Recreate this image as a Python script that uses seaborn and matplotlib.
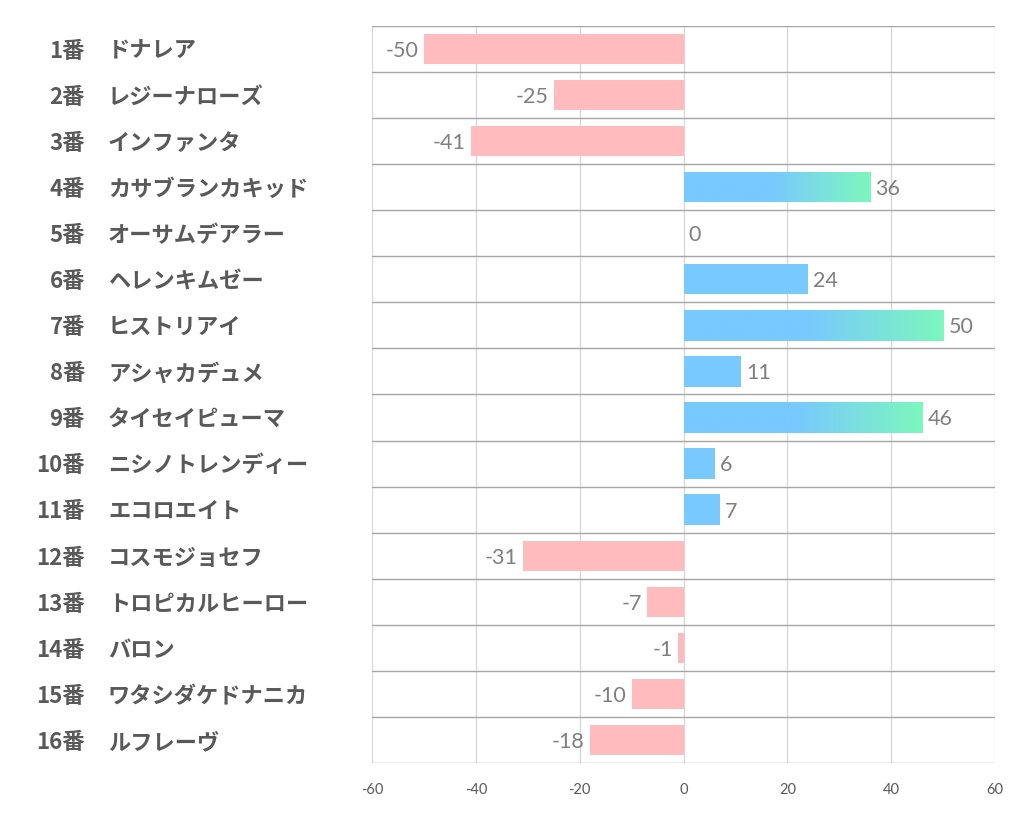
import numpy as np
import pandas as pd
import matplotlib
matplotlib.use('Agg')
import matplotlib.pyplot as plt
import seaborn as sns

# data
numbers = ['1番', '2番', '3番', '4番', '5番', '6番', '7番', '8番',
           '9番', '10番', '11番', '12番', '13番', '14番', '15番', '16番']
names = ['ドナレア', 'レジーナローズ', 'インファンタ', 'カサブランカキッド',
         'オーサムデアラー', 'ヘレンキムゼー', 'ヒストリアイ', 'アシャカデュメ',
         'タイセイピューマ', 'ニシノトレンディー', 'エコロエイト', 'コスモジョセフ',
         'トロピカルヒーロー', 'バロン', 'ワタシダケドナニカ', 'ルフレーヴ']
scores = [-50, -25, -41, 36, 0, 24, 50, 11, 46, 6, 7, -31, -7, -1, -10, -18]
x_ticks = [-60, -40, -20, 0, 20, 40, 60]

POS = '#78C9FE'
GREEN = '#7DF7BE'
NEG = '#FFBBBD'

sns.set_style('white')
plt.rcParams['font.family'] = ['Lato', 'Noto Sans CJK JP', 'DejaVu Sans']

data = pd.DataFrame({'horse': [f'{n} {m}' for n, m in zip(numbers, names)],
                     'score': scores})
colors = [POS if s >= 0 else NEG for s in scores]

fig = plt.figure(figsize=(10.22, 8.34), dpi=100)
ax = fig.add_axes([0.364, 0.085, 0.6096, 0.884])

sns.barplot(data=data, x='score', y='horse', hue='horse', palette=colors,
            orient='h', width=0.66, legend=False, saturation=1, linewidth=0, ax=ax)

# gradient on the long positive bars (right half fades to green), clipped to the bar
cmap = matplotlib.colors.LinearSegmentedColormap.from_list(
    'bg', [(0, POS), (0.47, POS), (1, GREEN)])
grad = np.linspace(0, 1, 512).reshape(1, -1)
for patch, s in zip(ax.patches, scores):
    if s > 30:
        x0, y0 = patch.get_x(), patch.get_y()
        w, h = patch.get_width(), patch.get_height()
        im = ax.imshow(grad, cmap=cmap, aspect='auto', zorder=patch.get_zorder() + 0.1,
                       extent=(x0, x0 + w, y0 + h + 0.1, y0 - 0.1),
                       interpolation='bilinear')
        im.set_clip_path(patch)

ax.set_xlim(-60, 60)
ax.set_ylim(len(scores) - 0.5, -0.5)

# value labels
for i, s in enumerate(scores):
    if s < 0:
        ax.text(s - 1.0, i + 0.04, str(s), ha='right', va='center', fontsize=15.5,
                color='#7F7F7F', family=['Lato', 'DejaVu Sans'])
    else:
        ax.text(s + 1.0, i + 0.04, str(s), ha='left', va='center', fontsize=15.5,
                color='#7F7F7F', family=['Lato', 'DejaVu Sans'])

# row labels: number right aligned, name left aligned
trans = ax.get_yaxis_transform()
for i, (n, m) in enumerate(zip(numbers, names)):
    ax.text(-0.4607, i + 0.05, n, transform=trans, ha='right', va='center', fontsize=16,
            fontweight='bold', color='#595959', family=['Noto Sans CJK JP'])
    ax.text(-0.4238, i + 0.05, m, transform=trans, ha='left', va='center', fontsize=16,
            fontweight='bold', color='#595959', family=['Noto Sans CJK JP'])

# grid: light vertical lines, darker row separators
for x in x_ticks:
    ax.axvline(x, color='#D9D9D9', lw=1, zorder=0)
for k in range(len(scores) + 1):
    ax.axhline(k - 0.5, color='#A6A6A6', lw=1, zorder=0.5)

for sp in ax.spines.values():
    sp.set_visible(False)

ax.set_xticks(x_ticks)
ax.set_xticklabels([str(t) for t in x_ticks])
ax.tick_params(axis='x', length=0, pad=14, labelsize=10.5, labelcolor='#595959')
ax.set_yticks([])
ax.set_xlabel('')
ax.set_ylabel('')

fig.savefig('out.png', dpi=100, facecolor='white')
